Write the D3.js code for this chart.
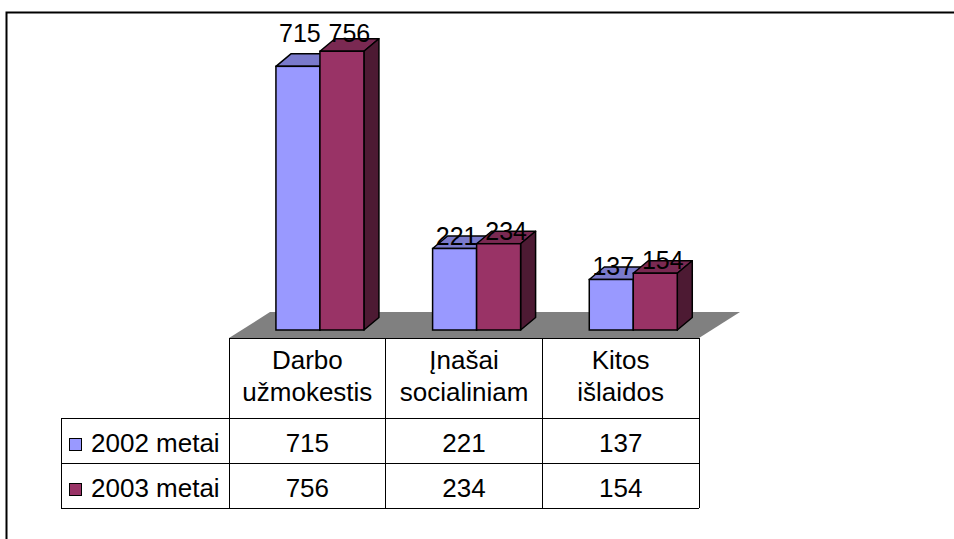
<!DOCTYPE html>
<html>
<head>
<meta charset="utf-8">
<script src="https://cdnjs.cloudflare.com/ajax/libs/d3/7.8.5/d3.min.js"></script>
<style>
  html, body { margin: 0; background: #fff; overflow: hidden; }
  svg { display: block; font-family: "Liberation Sans", Arial, sans-serif; }
</style>
</head>
<body>
<div id="vis"></div>
<script>
// chart data
var categories = [["Darbo", "užmokestis"], ["Įnašai", "socialiniam"], ["Kitos", "išlaidos"]];
var seriesNames = ["2002 metai", "2003 metai"];
var values2002 = [715, 221, 137];
var values2003 = [756, 234, 154];

var W = 954, H = 539;
var front = ["#9999FF", "#993366"],
    topC  = ["#7A7ACC", "#7A2952"],
    sideC = ["#4D4D80", "#4D1A33"];

var svg = d3.select("#vis").append("svg")
  .attr("width", W)
  .attr("height", H);

// outer frame: only top and left edges fall inside the page
svg.append("path")
  .attr("d", "M6.5," + H + "V12.5H" + W)
  .attr("fill", "none")
  .attr("stroke", "#000")
  .attr("stroke-width", 2);

var catIdx = d3.range(categories.length);
var x = d3.scaleBand().domain(catIdx).range([229, 699]);   // table columns
var y = d3.scaleLinear().domain([0, 800]).range([330, 35]);
var xs = d3.scaleBand().domain([0, 1]).range([0, 88]);

var floorDx = 41, floorDy = -26;   // floor depth
var barShift = 12.6;               // bar front face sits a bit back on the floor
var dx = 15, dy = -12.5;           // bar depth
var labelNudge = [2, 7.5];

var tableTop = 338;

// floor
svg.append("polygon")
  .attr("points", [
    [x.range()[0], tableTop], [x.range()[1], tableTop],
    [x.range()[1] + floorDx, tableTop + floorDy], [x.range()[0] + floorDx, tableTop + floorDy]
  ].map(p => p.join(",")).join(" "))
  .attr("fill", "#808080");

var series = [values2002, values2003];
var g = svg.append("g");

catIdx.forEach(function(c) {
  var cx = x(c) + x.bandwidth() / 2 + barShift;
  var gx = cx - 44;
  var labelY = [];
  series.forEach(function(vals, s) {
    var x0 = gx + xs(s), x1 = x0 + xs.bandwidth();
    var y0 = y(0), y1 = y(vals[c]);
    // top face
    g.append("polygon")
      .attr("points", [[x0, y1], [x1, y1], [x1 + dx, y1 + dy], [x0 + dx, y1 + dy]].map(p => p.join(",")).join(" "))
      .attr("fill", topC[s]).attr("stroke", "#000").attr("stroke-width", 1.5).attr("stroke-linejoin", "round");
    // side face
    g.append("polygon")
      .attr("points", [[x1, y1], [x1 + dx, y1 + dy], [x1 + dx, y0 + dy], [x1, y0]].map(p => p.join(",")).join(" "))
      .attr("fill", sideC[s]).attr("stroke", "#000").attr("stroke-width", 1.5).attr("stroke-linejoin", "round");
    // front face
    g.append("rect")
      .attr("x", x0).attr("y", y1)
      .attr("width", x1 - x0).attr("height", y0 - y1)
      .attr("fill", front[s]).attr("stroke", "#000").attr("stroke-width", 1.5);
    labelY.push(y1 - 4);
  });
  // lift labels of tall neighbouring bars to one line, as the original does
  if (labelY[0] - labelY[1] > 10) { labelY[1] -= 5; labelY[0] = labelY[1]; }
  series.forEach(function(vals, s) {
    g.append("text")
      .attr("x", gx + xs(s) + xs.bandwidth() / 2 + labelNudge[s])
      .attr("y", labelY[s])
      .attr("text-anchor", "middle")
      .attr("font-size", 25)
      .attr("fill", "#000")
      .text(vals[c]);
  });
});

// data table
var rowY = [tableTop, 418, 463, 508];
var tleft = 61;
var t = svg.append("g").attr("stroke", "#000").attr("stroke-width", 1).attr("shape-rendering", "crispEdges");
t.append("line").attr("x1", x.range()[0]).attr("x2", x.range()[1]).attr("y1", rowY[0]).attr("y2", rowY[0]);
rowY.slice(1).forEach(function(ry) {
  t.append("line").attr("x1", tleft).attr("x2", x.range()[1]).attr("y1", ry).attr("y2", ry);
});
t.append("line").attr("x1", tleft).attr("x2", tleft).attr("y1", rowY[1]).attr("y2", rowY[3]);
catIdx.concat([categories.length]).forEach(function(c) {
  var xx = c < categories.length ? x(c) : x.range()[1];
  t.append("line").attr("x1", xx).attr("x2", xx).attr("y1", rowY[0]).attr("y2", rowY[3]);
});

// header text
catIdx.forEach(function(c) {
  var cx = x(c) + x.bandwidth() / 2;
  var mid = (rowY[0] + rowY[1]) / 2;
  categories[c].forEach(function(line, i) {
    svg.append("text")
      .attr("x", cx).attr("y", mid - 9 + i * 32)
      .attr("text-anchor", "middle")
      .attr("font-size", 26)
      .text(line);
  });
});

// series rows
series.forEach(function(vals, s) {
  var base = rowY[s + 1] + 34;
  svg.append("rect")
    .attr("x", 69.5).attr("y", base - 13.5)
    .attr("width", 12).attr("height", 12)
    .attr("fill", front[s]).attr("stroke", "#000").attr("stroke-width", 1);
  svg.append("text")
    .attr("x", 91).attr("y", base)
    .attr("font-size", 26)
    .text(seriesNames[s]);
  catIdx.forEach(function(c) {
    svg.append("text")
      .attr("x", x(c) + x.bandwidth() / 2).attr("y", base)
      .attr("text-anchor", "middle")
      .attr("font-size", 26)
      .text(vals[c]);
  });
});
</script>
</body>
</html>
